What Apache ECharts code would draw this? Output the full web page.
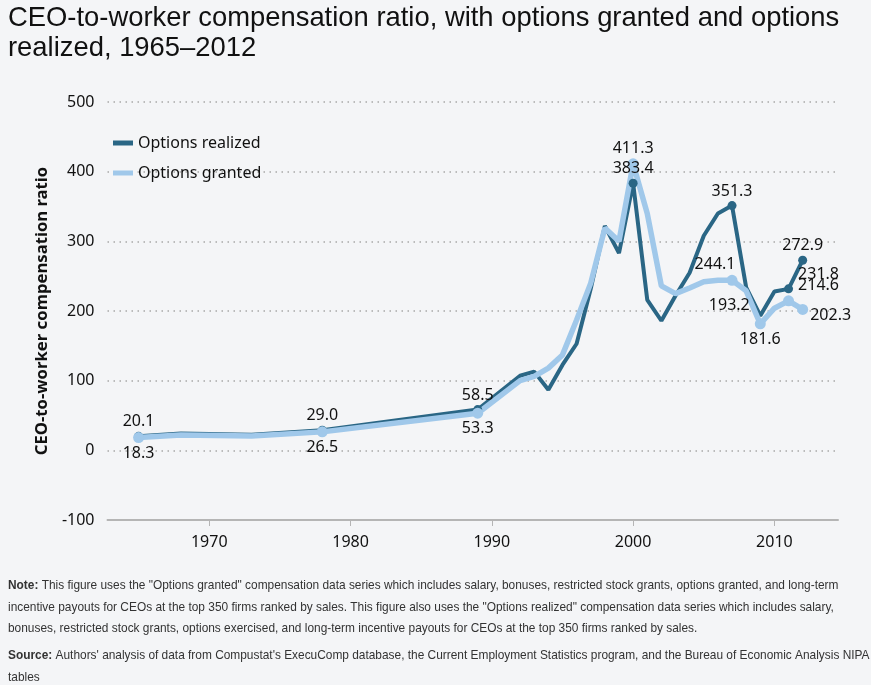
<!DOCTYPE html>
<html><head><meta charset="utf-8">
<script src="https://cdn.jsdelivr.net/npm/echarts@6/dist/echarts.min.js"></script>
<style>html,body{margin:0;padding:0;background:#f4f5f7;} #c{width:871px;height:685px;}</style>
</head><body><div id="c"></div>
<script>
// ---- data ----
const years = [1965,1968,1973,1978,1989,1992,1993,1994,1995,1996,1997,1998,1999,2000,2001,2002,2003,2004,2005,2006,2007,2008,2009,2010,2011,2012];
const optionsRealized = [20.1,24.2,22.3,29.0,58.5,107,113,87,122.6,153,232,322,283,383.4,216,186,222,255,308,340,351.3,234,193.2,228,231.8,272.9];
const optionsGranted  = [18.3,22.0,20.5,26.5,53.3,100,106,118,137,187,240,319,300,411.3,340,236,225,233,242,244,244.1,229,181.6,204,214.6,202.3];
const xTickYears = [1970,1980,1990,2000,2010];
const seriesNames = ['Options realized','Options granted'];
const titleText = 'CEO-to-worker compensation ratio, with options granted and options\nrealized, 1965–2012';
const yAxisName = 'CEO-to-worker compensation ratio';
const noteText = '{b|Note:} This figure uses the "Options granted" compensation data series which includes salary, bonuses, restricted stock grants, options granted, and long-term\nincentive payouts for CEOs at the top 350 firms ranked by sales. This figure also uses the "Options realized" compensation data series which includes salary,\nbonuses, restricted stock grants, options exercised, and long-term incentive payouts for CEOs at the top 350 firms ranked by sales.';
const sourceText = '{b|Source:} Authors\' analysis of data from Compustat\'s ExecuComp database, the Current Employment Statistics program, and the Bureau of Economic Analysis NIPA\ntables';

// ---- label placement (style only) ----
const realizedLabels = {1965:{p:'top'},1978:{p:'top'},1989:{p:'top'},2000:{p:'top'},2007:{p:'top'},2009:{p:'top',o:[-31,0],noDot:true},2011:{p:'top',o:[30,0]},2012:{p:'top'}};
const grantedLabels  = {1965:{p:'bottom'},1978:{p:'bottom'},1989:{p:'bottom'},2000:{p:'top'},2007:{p:'top',o:[-17,0]},2009:{p:'bottom'},2011:{p:'top',o:[30,0]},2012:{p:'right',o:[0,6]}};

const FONT = '"Noto Sans", "Open Sans", sans-serif';
const NOTEFONT = '"Liberation Sans", Arial, sans-serif';

function build(vals, lbls, size){
  return years.map((y,i)=>{
    const l = lbls[y];
    if(!l) return {value:[y, vals[i]], symbol:'none'};
    return {value:[y, vals[i]], symbol:'circle', symbolSize:l.noDot ? 0.1 : size,
      label:{show:true, position:l.p, distance:2, offset:l.o||[0,0], formatter:(p)=>p.value[1].toFixed(1)}};
  });
}

const chart = echarts.init(document.getElementById('c'), null, {renderer:'canvas'});
chart.setOption({
  backgroundColor:'#f4f5f7',
  animation:false,
  textStyle:{fontFamily:FONT},
  grid:{left:107.5, right:33, top:102, bottom:165},
  legend:{
    data:seriesNames, orient:'vertical', left:108, top:130,
    icon:'rect', itemWidth:20, itemHeight:5, itemGap:14,
    textStyle:{fontSize:16, color:'#111', fontFamily:FONT}
  },
  xAxis:{
    type:'value', min:1962.8, max:2014.5,
    axisLine:{show:true, onZero:false, lineStyle:{color:'#b5b5b5', width:2}},
    axisTick:{show:true, customValues:xTickYears, length:6, lineStyle:{color:'#b5b5b5'}},
    axisLabel:{customValues:xTickYears, fontSize:16, color:'#111', margin:14, fontFamily:FONT, formatter:(v)=>String(v)},
    splitLine:{show:false}
  },
  yAxis:{
    type:'value', min:-100, max:500, interval:100,
    name:yAxisName, nameLocation:'middle', nameGap:57,
    nameTextStyle:{fontSize:16.7, fontWeight:'bold', color:'#111', fontFamily:FONT},
    axisLine:{show:false}, axisTick:{show:false},
    axisLabel:{fontSize:16, color:'#111', margin:13, fontFamily:FONT},
    splitLine:{show:true, lineStyle:{color:'#a8a8a8', width:1.5, type:[1.5,4.5]}}
  },
  series:[
    {name:seriesNames[0], type:'line', data:build(optionsRealized, realizedLabels, 9),
     lineStyle:{width:4, color:'#2a6685'}, itemStyle:{color:'#2a6685'}, z:2,
     label:{show:false, fontSize:16, color:'#111', fontFamily:FONT}, emphasis:{disabled:true}},
    {name:seriesNames[1], type:'line', data:build(optionsGranted, grantedLabels, 11),
     lineStyle:{width:5.5, color:'#a0c8ea'}, itemStyle:{color:'#a0c8ea'}, z:2,
     label:{show:false, fontSize:16, color:'#111', fontFamily:FONT}, emphasis:{disabled:true}}
  ],
  graphic:[
    {type:'text', left:8, top:4, style:{text:titleText, font:'27.4px "Liberation Sans", Arial, sans-serif', lineHeight:29.5, fill:'#111'}},
    {type:'text', left:8, top:575, style:{text:noteText, font:'11.9px ' + NOTEFONT, lineHeight:21.5, fill:'#333',
      rich:{b:{fontWeight:'bold', fontSize:11.9, fontFamily:NOTEFONT, fill:'#333'}}}},
    {type:'text', left:8, top:645, style:{text:sourceText, font:'11.9px ' + NOTEFONT, lineHeight:22, fill:'#333',
      rich:{b:{fontWeight:'bold', fontSize:11.9, fontFamily:NOTEFONT, fill:'#333'}}}}
  ]
});
</script></body></html>
